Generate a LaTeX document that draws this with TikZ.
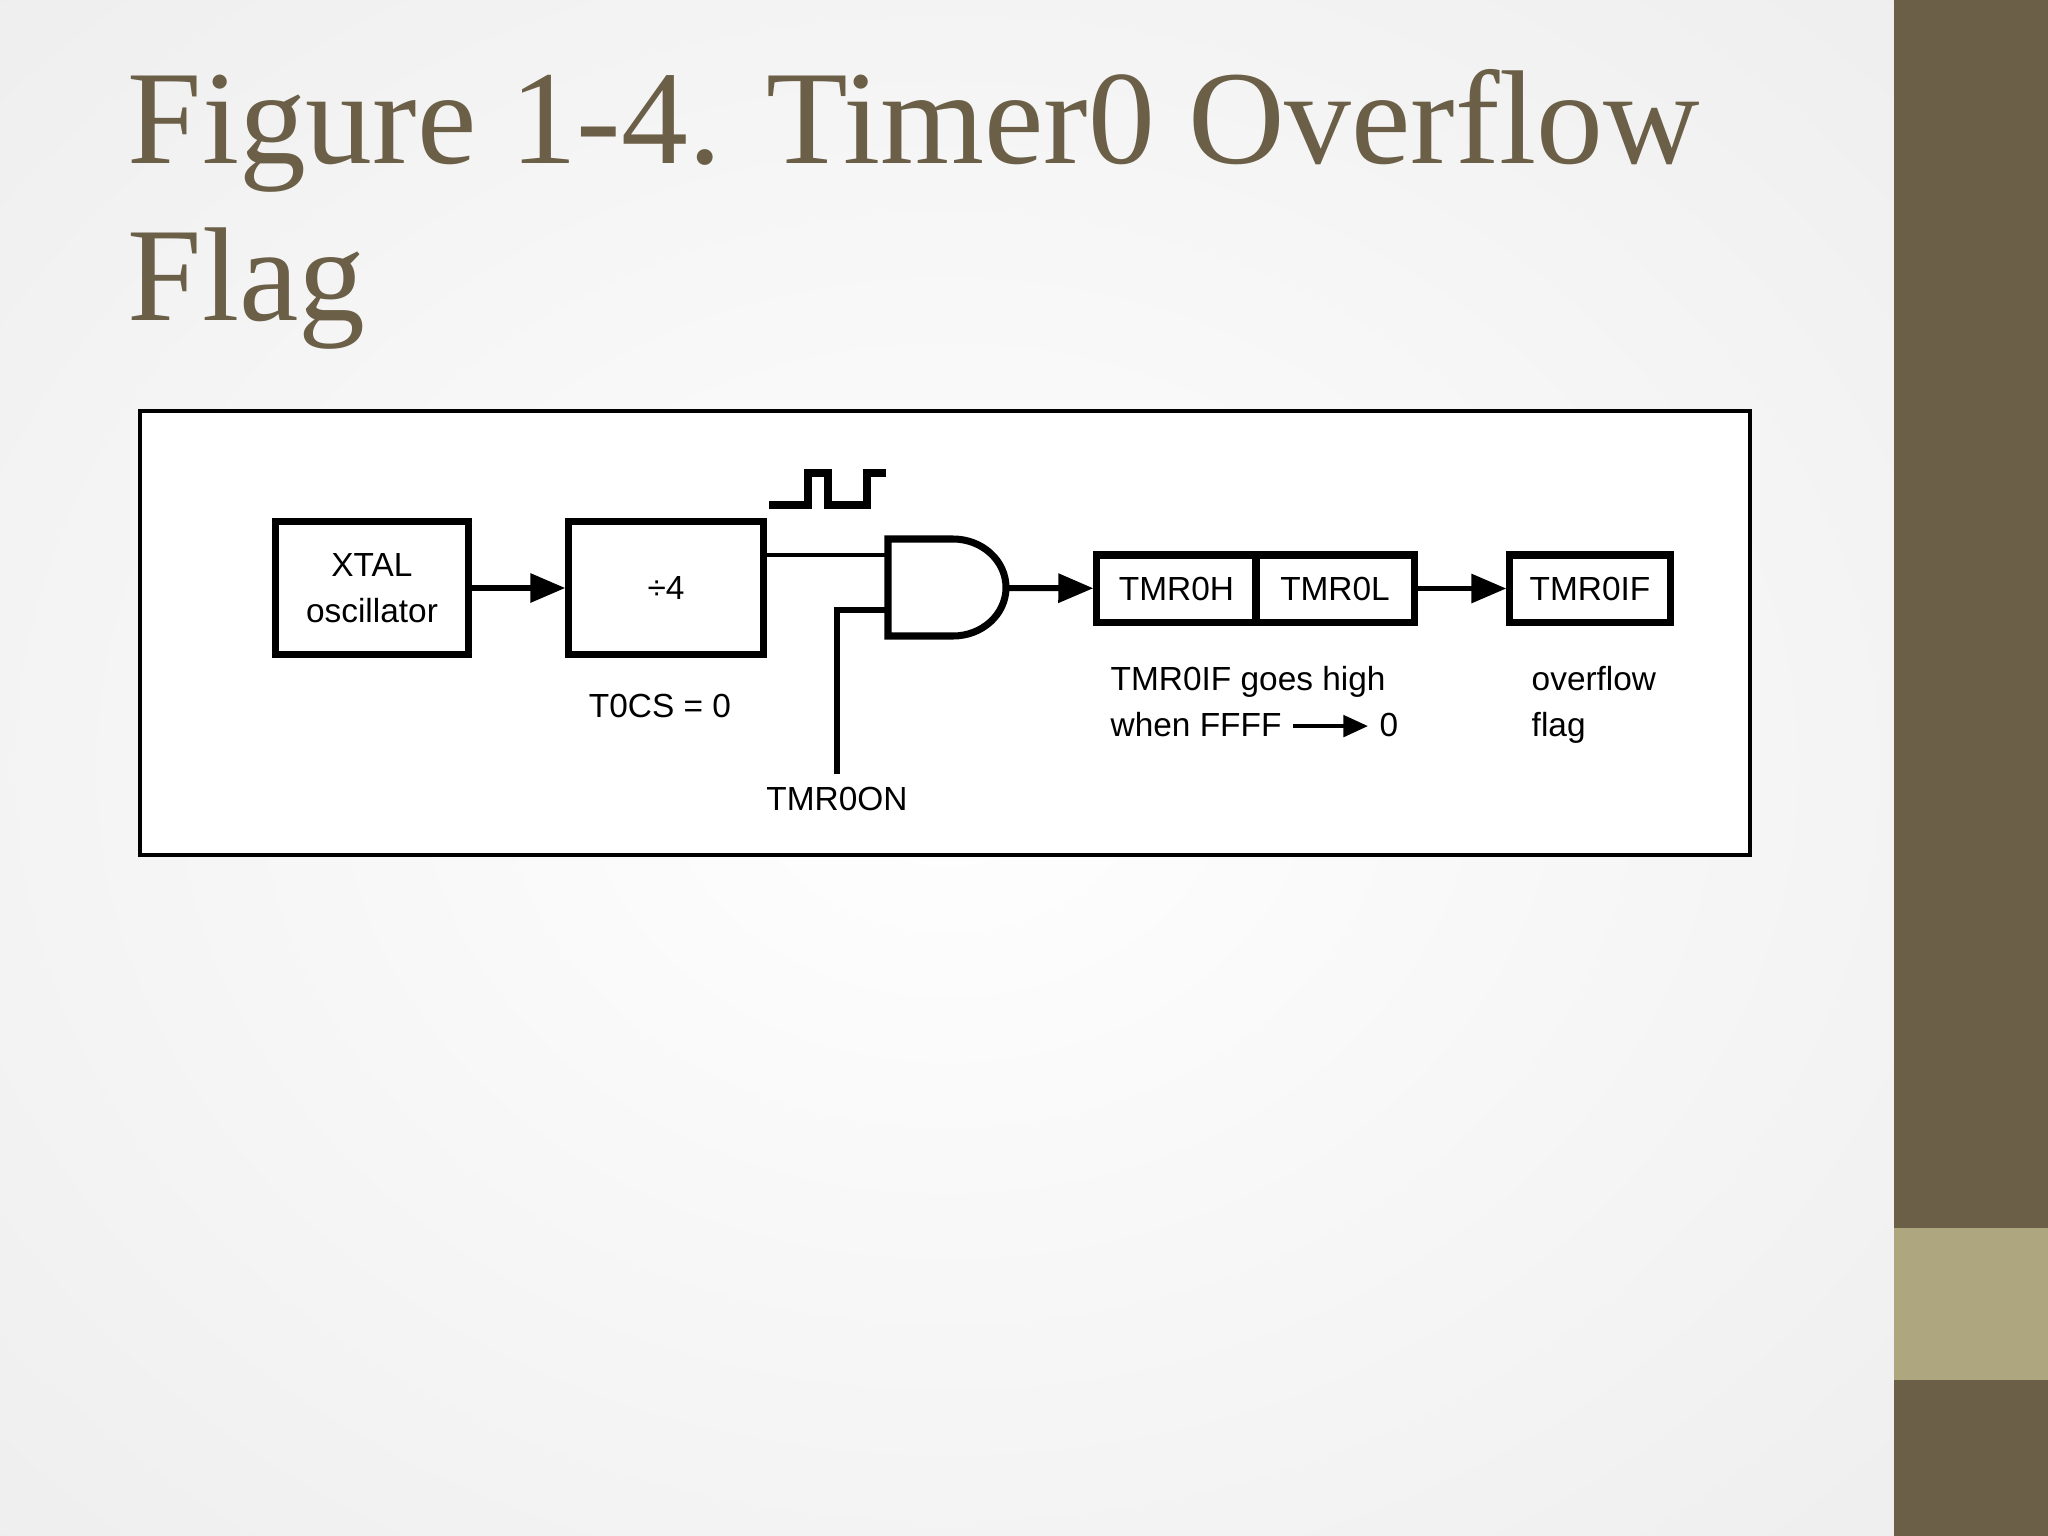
\documentclass[tikz,border=0pt]{standalone}
\usepackage{fontspec}
\setmainfont{Liberation Serif}
\newfontfamily\diafont{Liberation Sans}
\usetikzlibrary{arrows.meta}
\definecolor{olive}{HTML}{6B5F47}
\definecolor{lolive}{HTML}{ADA67E}
\begin{document}
\begin{tikzpicture}[x=0.01cm,y=-0.01cm,
  blk/.style={draw,line width=2pt,inner sep=0pt},
  wire/.style={line width=1.7pt},
  arr/.style={wire,-{Triangle[length=10pt,width=8pt]}},
  lab/.style={font=\diafont\fontsize{9.5}{13}\selectfont,inner sep=0pt,align=left}]
\useasboundingbox (0,0) rectangle (2048,1536);
\shade[inner color=white,outer color=gray!14] (-500,-400) rectangle (2394,1936);
\fill[olive] (1894,0) rectangle (2048,1536);
\fill[lolive] (1894,1228) rectangle (2048,1380);
\node[anchor=base west,inner sep=0pt,text=olive,font=\fontsize{38}{46}\selectfont] (t1) at (127,163) {Figure 1-4. Timer0 Overflow};
\node[anchor=base west,inner sep=0pt,text=olive,font=\fontsize{38}{46}\selectfont] (t2) at (127,320) {Flag};
\draw[fill=white,line width=1.2pt] (140,411) rectangle (1750,855);
\node[blk,minimum width=1.93cm,minimum height=1.32cm,lab,align=center] (xtal) at (372,588) {XTAL\\oscillator};
\node[blk,minimum width=1.94cm,minimum height=1.32cm,lab] (div) at (666,588) {÷4};
\draw[arr] (xtal) -- (div);
\draw[line width=2pt] (888,539) -- (953,539) arc[start angle=90,end angle=-90,x radius=53,y radius=-48.5] -- (888,636) -- cycle;
\coordinate (g1) at (888,555);
\coordinate (g2) at (888,610);
\coordinate (gout) at (1006,588);
\draw[line width=1.1pt] (div.east |- g1) -- (g1);
\coordinate (on) at (837,774);
\draw[wire] (on) -- (837,610) -- (g2);
\node[lab,anchor=north] (tmron) at (837,786) {TMR0ON};
\draw[line width=2pt] (769,505) -- (808,505) -- (808,473) -- (828,473) -- (828,505) -- (867,505) -- (867,473) -- (886,473);
\node[blk,minimum width=1.59cm,minimum height=0.67cm,lab] (th) at (1176.5,588.5) {TMR0H};
\node[blk,minimum width=1.58cm,minimum height=0.67cm,lab] (tl) at (1335,588.5) {TMR0L};
\node[blk,minimum width=1.60cm,minimum height=0.67cm,lab] (tif) at (1590,588.5) {TMR0IF};
\draw[arr] (gout) -- (th);
\draw[arr] (tl) -- (tif);
\node[lab,anchor=north] (tocs) at (660,693) {T0CS = 0};
\node[lab,anchor=north west] (goes) at (1110,666) {TMR0IF goes high\\when FFFF \tikz[baseline=-3pt,x=1cm,y=1cm]\draw[line width=1.3pt,-{Triangle[length=7pt,width=6pt]}] (0,0)--(0.75,0); 0};
\node[lab,anchor=north west] (ovf) at (1531,666) {overflow\\flag};
\end{tikzpicture}
\end{document}
